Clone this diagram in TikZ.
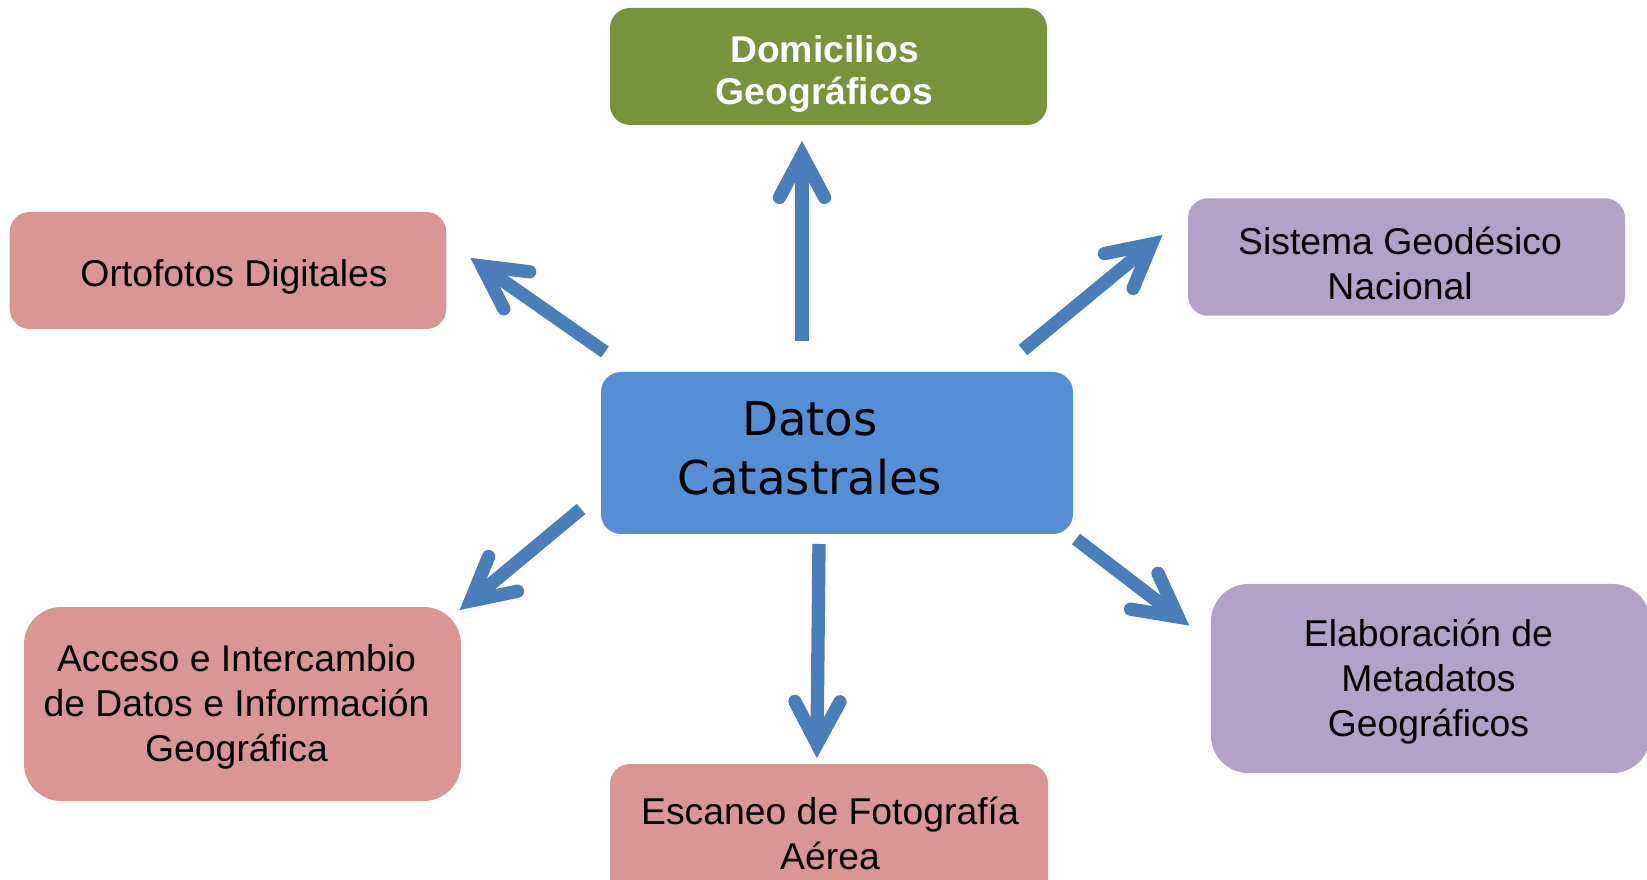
\documentclass[tikz,border=0pt]{standalone}
\usepackage{fontspec}
\setmainfont{Liberation Sans}
\newfontfamily\dejavu{DejaVu Sans}
\usetikzlibrary{calc}
\definecolor{cgreen}{HTML}{77933C}
\definecolor{cpink}{HTML}{D99694}
\definecolor{cpurple}{HTML}{B3A2C7}
\definecolor{cblue}{HTML}{558ED5}
\definecolor{carrow}{HTML}{4A7EBB}
\tikzset{
  box/.style={rectangle, rounded corners=15pt, draw=none, inner sep=0pt},
  txt/.style={inner sep=0pt, align=center, font=\fontsize{28}{33.5}\selectfont},
  shaft/.style={draw=carrow, line width=10pt, line cap=butt},
  head/.style={draw=carrow, line width=10pt, line cap=round, line join=miter},
}
\newcommand\myarrow[2]{%
  \draw[shaft] (#1) -- (#2);
  \draw[head] ($(#2)!36pt!28:(#1)$) -- (#2) -- ($(#2)!36pt!-28:(#1)$);
}
\begin{document}
\begin{tikzpicture}[x=0.75pt,y=-0.75pt]
\useasboundingbox (0,0) rectangle (1647,880);
\clip (0,0) rectangle (1647,880);

\node[box, fill=cgreen, minimum width=327.75pt, minimum height=87.75pt] (dom) at (828.5,66.5) {};
\node[txt, text=white, font=\fontsize{28}{32}\selectfont\bfseries] (domt) at (824.5,74) {Domicilios\\Geográficos};

\node[box, fill=cpink, minimum width=327.4pt, minimum height=87.75pt] (orto) at (228,270.5) {};
\node[txt] (ortot) at (234,276.5) {Ortofotos Digitales};

\node[box, fill=cpurple, minimum width=327.75pt, minimum height=88.1pt] (sis) at (1406.5,257) {};
\node[txt] (sist) at (1400,263.5) {Sistema Geodésico\\Nacional};

\node[box, fill=cblue, minimum width=354pt, minimum height=121.5pt] (cen) at (837,453) {};
\node[inner sep=0pt, align=center, font=\dejavu\fontsize{35}{44}\selectfont] (ctext) at (810,448) {Datos\\Catastrales};

\node[box, fill=cpink, rounded corners=28pt, minimum width=327.75pt, minimum height=145.5pt] (acc) at (242.5,704) {};
\node[txt] (acct) at (236.5,707) {Acceso e Intercambio\\de Datos e Información\\Geográfica};

\node[box, fill=cpink, minimum width=328.5pt, minimum height=105.75pt] (esc) at (829,834.5) {};
\node[txt] (esct) at (830,833.5) {Escaneo de Fotografía\\Aérea};

\node[box, fill=cpurple, rounded corners=28pt, minimum width=329.25pt, minimum height=141.75pt] (elab) at (1430.5,678.5) {};
\node[txt] (elabt) at (1428.5,681.5) {Elaboración de\\Metadatos\\Geográficos};

\coordinate (a1s) at (802,341);   \coordinate (a1t) at (802,155);
\coordinate (a2s) at (605,352);   \coordinate (a2t) at (482,266);
\coordinate (a3s) at (1023,350);  \coordinate (a3t) at (1151.5,244);
\coordinate (a4s) at (581,509);   \coordinate (a4t) at (470.5,601);
\coordinate (a5s) at (819,544);   \coordinate (a5t) at (817,744);
\coordinate (a6s) at (1076,539);  \coordinate (a6t) at (1178,617);

\myarrow{a1s}{a1t}
\myarrow{a2s}{a2t}
\myarrow{a3s}{a3t}
\myarrow{a4s}{a4t}
\myarrow{a5s}{a5t}
\myarrow{a6s}{a6t}
\end{tikzpicture}
\end{document}
